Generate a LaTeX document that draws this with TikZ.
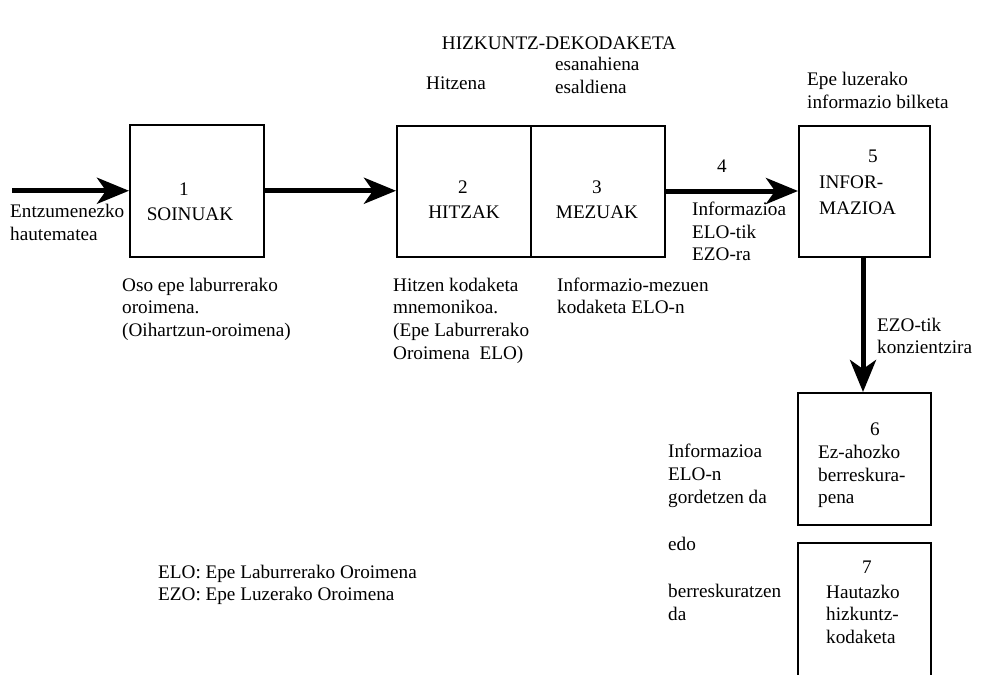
\documentclass[tikz,border=0pt]{standalone}
\usepackage{fontspec}
\setmainfont{Liberation Serif}
\usetikzlibrary{arrows.meta}
\newcommand{\fsz}{\fontsize{19.2}{22.7}\selectfont}
\tikzset{
  box/.style={draw, line width=2pt, inner sep=0pt},
  flow/.style={line width=5pt, -{Stealth[length=32pt,width=26pt,inset=9pt]}},
  lbl/.style={anchor=base west, inner sep=0pt, font=\fsz},
  lblc/.style={anchor=base, inner sep=0pt, font=\fsz},
}
\begin{document}
\begin{tikzpicture}[x=1pt,y=-1pt]
\useasboundingbox (0,0) rectangle (981,674);
% boxes
\node[box, minimum width=134pt, minimum height=132.5pt] (b1) at (197,190.75) {};
\node[box, minimum width=134pt, minimum height=131pt] (b2) at (464,191) {};
\node[box, minimum width=134pt, minimum height=131pt] (b3) at (598,191) {};
\node[box, minimum width=131pt, minimum height=131pt] (b5) at (864.5,191.5) {};
\node[box, minimum width=133pt, minimum height=132pt] (b6) at (864.5,459) {};
\coordinate (b7bl) at (798,676);
\coordinate (b7tl) at (798,543);
\coordinate (b7tr) at (931,543);
\coordinate (b7br) at (931,676);
\draw[line width=2pt] (b7bl) -- (b7tl) -- (b7tr) -- (b7br);
% arrows
\coordinate (in) at (12,190.75);
\draw[flow] (in) -- (b1.west);
\draw[flow] (b1.east) -- (b1.east -| b2.west);
\draw[flow] (b3.east) -- (b3.east -| b5.west);
\draw[flow] ([xshift=-1.5pt]b5.south) -- ([xshift=-1.5pt]b6.north);
% title
\node[lblc] (title) at (559,50) {HIZKUNTZ-DEKODAKETA};
% box texts
\node[lblc] (n1) at (184,195) {1};
\node[lblc] (s1) at (190,220) {SOINUAK};
\node[lblc] (n2) at (463,193) {2};
\node[lblc] (s2) at (464,218) {HITZAK};
\node[lblc] (n3) at (597,193) {3};
\node[lblc] (s3) at (597,218) {MEZUAK};
\node[lblc] (n5) at (873,162) {5};
\node[lbl] (s5a) at (819,188) {INFOR-};
\node[lbl] (s5b) at (819,214) {MAZIOA};
\node[lblc] (n6) at (875,435) {6};
\node[lbl] (s6a) at (818,458) {Ez-ahozko};
\node[lbl] (s6b) at (818,481) {berreskura-};
\node[lbl] (s6c) at (818,503) {pena};
\node[lblc] (n7) at (867,573) {7};
\node[lbl] (s7a) at (826,598) {Hautazko};
\node[lbl] (s7b) at (826,620) {hizkuntz-};
\node[lbl] (s7c) at (826,643) {kodaketa};
% other labels
\node[lbl] (ea) at (10,217) {Entzumenezko};
\node[lbl] (eb) at (10,240) {hautematea};
\node[lblc] (hz) at (456,90) {Hitzena};
\node[lbl] (esa) at (555,71) {esanahiena};
\node[lbl] (esb) at (555,94) {esaldiena};
\node[lbl] (epa) at (807,86) {Epe luzerako};
\node[lbl] (epb) at (807,108) {informazio bilketa};
\node[lblc] (n4) at (722,172) {4};
\node[lbl] (ia) at (692,215) {Informazioa};
\node[lbl] (ib) at (692,238) {ELO-tik};
\node[lbl] (ic) at (692,260) {EZO-ra};
\node[lbl] (oa) at (122,291) {Oso epe laburrerako};
\node[lbl] (ob) at (122,313) {oroimena.};
\node[lbl] (oc) at (122,336) {(Oihartzun-oroimena)};
\node[lbl] (ha) at (393,291) {Hitzen kodaketa};
\node[lbl] (hb) at (393,313) {mnemonikoa.};
\node[lbl] (hc) at (393,336) {(Epe Laburrerako};
\node[lbl] (hd) at (393,359) {Oroimena\ \ ELO)};
\node[lbl] (ma) at (557,291) {Informazio-mezuen};
\node[lbl] (mb) at (557,313) {kodaketa ELO-n};
\node[lbl] (za) at (877,331) {EZO-tik};
\node[lbl] (zb) at (877,353) {konzientzira};
\node[lbl] (ga) at (668,457) {Informazioa};
\node[lbl] (gb) at (668,480) {ELO-n};
\node[lbl] (gc) at (668,503) {gordetzen da};
\node[lbl] (gd) at (668,550) {edo};
\node[lbl] (ge) at (668,597) {berreskuratzen};
\node[lbl] (gf) at (668,620) {da};
\node[lbl] (la) at (158,578) {ELO: Epe Laburrerako Oroimena};
\node[lbl] (lb) at (158,600) {EZO: Epe Luzerako Oroimena};
\end{tikzpicture}
\end{document}
